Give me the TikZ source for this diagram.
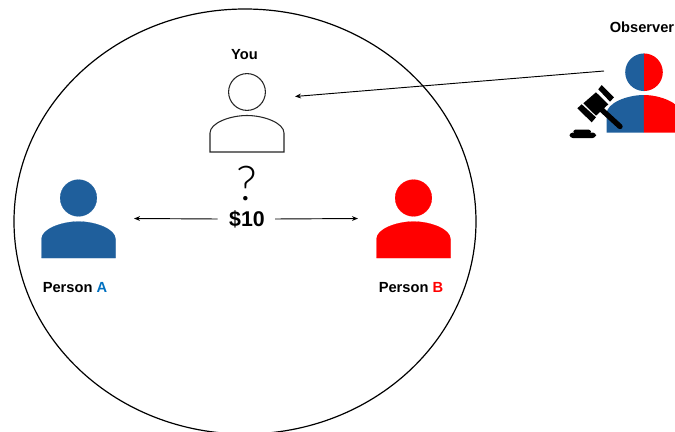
\documentclass[tikz,border=0pt]{standalone}
\usepackage{fontspec}
\usetikzlibrary{arrows.meta}
\setmainfont{Liberation Sans}
\newfontfamily\thinfont[UprightFont=* Light]{Lato}
\definecolor{persblue}{HTML}{1F5F9C}
\definecolor{lblblue}{HTML}{0070C0}
\begin{document}
\begin{tikzpicture}[x=0.75pt,y=-0.75pt,
    lbl/.style={font=\fontsize{11}{13}\selectfont\bfseries,inner sep=0pt},
    link/.style={line width=0.7pt,-{Stealth[length=4.5pt,width=3.6pt]}},
    gavel/.style={fill=black,draw=none}]
  \useasboundingbox (0,0) rectangle (675,432);
  \clip (0,0) rectangle (675,432);
  \draw[line width=0.9pt] (245,221.5) ellipse [x radius=231,y radius=212.5];
  % people
  \foreach \nm/\x/\y/\fc/\dc/\lw in {A/78.5/198/persblue/persblue/0.1,B/413.5/198/red/red/0.1,Y/247/92/white/black!85/0.8}{
    \node[circle,minimum size=27.6pt,inner sep=0pt,fill=\fc,draw=\dc,line width=\lw pt] (head\nm) at (\x,\y) {};
    \draw[fill=\fc,draw=\dc,line width=\lw pt] (\x-37,\y+60) -- (\x-37,\y+41)
      .. controls (\x-37,\y+31) and (\x-17,\y+23.5) .. (\x,\y+23.5)
      .. controls (\x+17,\y+23.5) and (\x+37,\y+31) .. (\x+37,\y+41) -- (\x+37,\y+60) -- cycle;
  }
  % observer
  \node[circle,minimum size=28.2pt,inner sep=0pt] (headO) at (644,72.5) {};
  \fill[persblue] (headO.north) arc (-90:-270:18.8) -- cycle;
  \fill[red] (headO.north) arc (-90:90:18.8) -- cycle;
  \fill[persblue] (643.8,132.5) -- (606.5,132.5) -- (606.5,114)
    .. controls (606.5,103) and (627,95) .. (643.8,95) -- cycle;
  \fill[red] (643.8,132.5) -- (681,132.5) -- (681,114)
    .. controls (681,103) and (660,95) .. (643.8,95) -- cycle;
  % gavel
  \fill[gavel] (596,92.3) -- (608.3,104.3) -- (596,115.7) -- (583.3,103.3) -- cycle;
  \fill[gavel] (598.3,89.3) -- (601.7,85) -- (614,97.3) -- (610,101.7) -- cycle;
  \fill[gavel] (577.3,108.3) -- (581.7,104.3) -- (596,117.3) -- (591.7,122.3) -- cycle;
  \draw[line width=4pt,line cap=round] (602,110) -- (620,126.5);
  \fill[gavel,rounded corners=1pt] (574,129.5) -- (590,129.5) -- (591.5,133) -- (573,133) -- cycle;
  \fill[gavel,rounded corners=2.5pt] (569.5,132.5) rectangle (596,138);
  % texts
  \node[lbl] (you) at (244.5,54.5) {You};
  \node[lbl] (obs) at (642,27) {Observer};
  \node[lbl] (lblA) at (75,288) {Person \textcolor{lblblue}{A}};
  \node[lbl] (lblB) at (411,288) {Person \textcolor{red}{B}};
  \node[inner sep=0pt] (ask) at (247,184) {\fontsize{36}{38}\selectfont\thinfont ?};
  \node[inner sep=0pt,font=\fontsize{16}{18}\selectfont\bfseries] (pot) at (247,219) {\$10};
  % arrows
  \coordinate (toA) at (134,218.5);
  \coordinate (toB) at (358,218.5);
  \coordinate (fromO) at (604,71);
  \coordinate (toY) at (295,96.5);
  \draw[link] ([xshift=-8.5pt]pot.west) -- (toA);
  \draw[link] ([xshift=7.5pt]pot.east) -- (toB);
  \draw[link] (fromO) -- (toY);
\end{tikzpicture}
\end{document}
